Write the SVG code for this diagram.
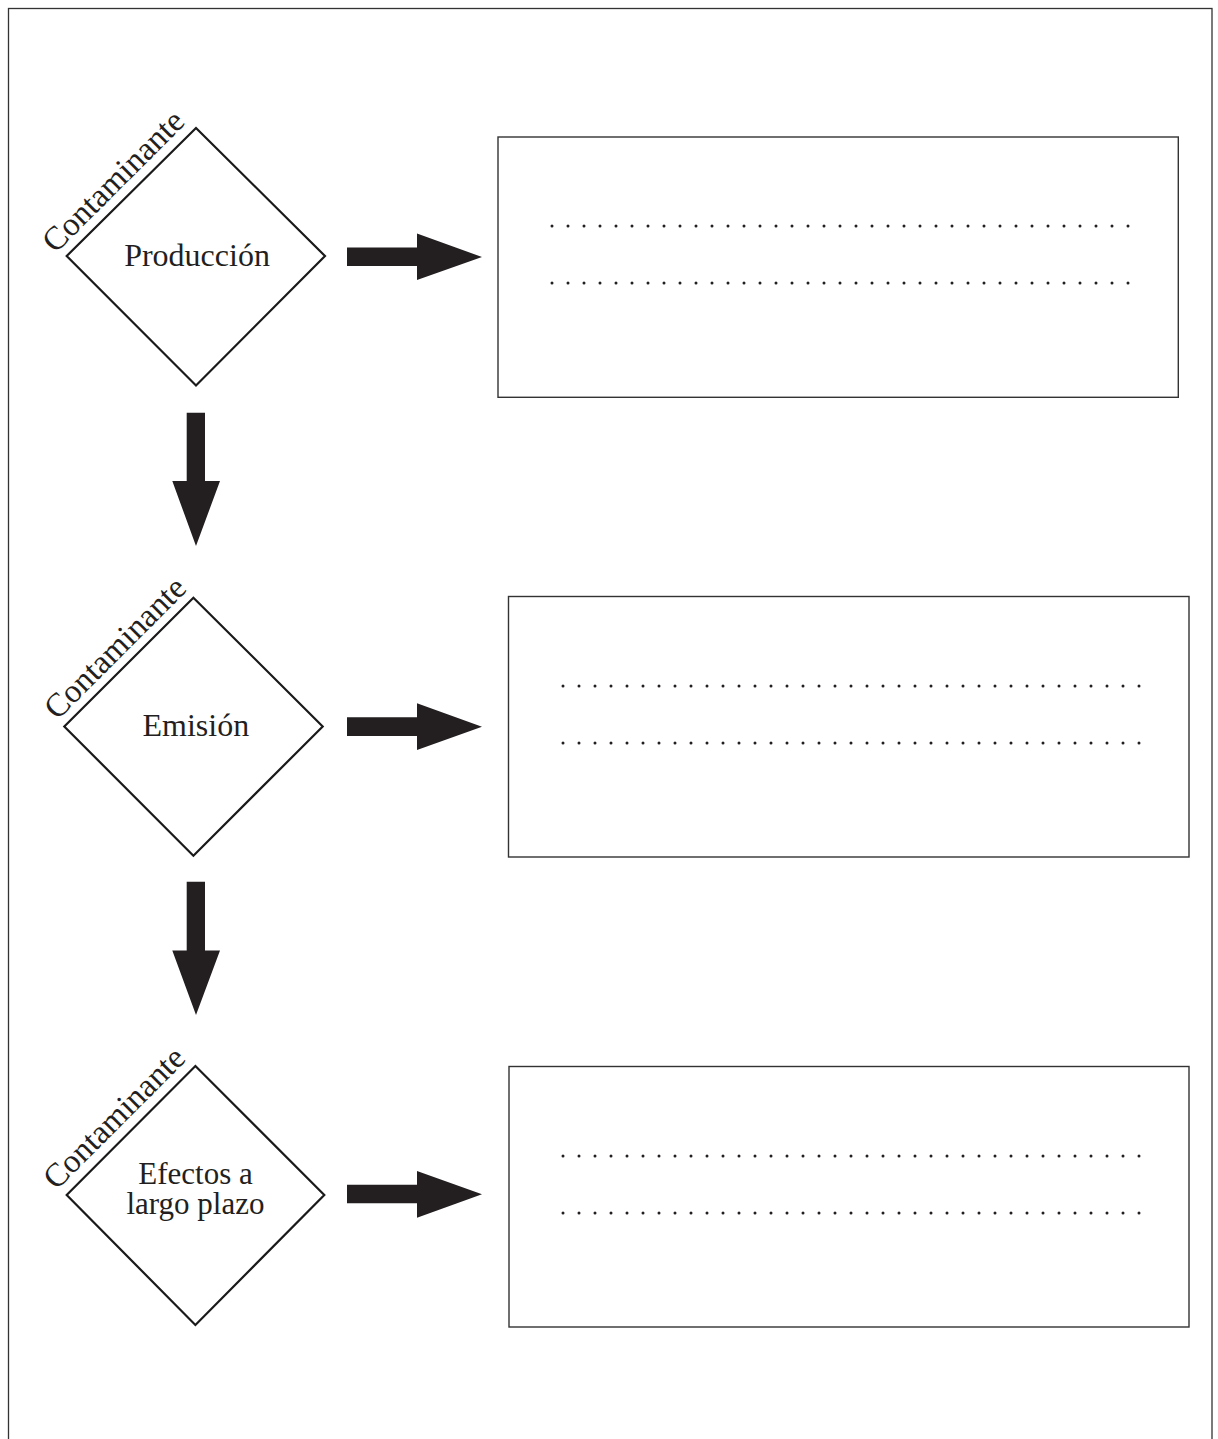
<svg xmlns="http://www.w3.org/2000/svg" width="1218" height="1439" viewBox="0 0 1218 1439">
<style>
.frame{fill:none;stroke:#333;stroke-width:1.3}
.diamond{fill:#fff;stroke:#1a1a1a;stroke-width:2.2;stroke-linejoin:miter}
.box{fill:#fff;stroke:#333;stroke-width:1.4}
.dots{stroke:#231f20;stroke-width:3;stroke-linecap:round;stroke-dasharray:0 16;fill:none}
.lbl{font-family:"Liberation Serif","Times New Roman",serif;font-size:32px;fill:#231f20;text-anchor:middle}
.lbl2{font-family:"Liberation Serif","Times New Roman",serif;font-size:31px;fill:#231f20;text-anchor:middle}
.side{font-family:"Liberation Serif","Times New Roman",serif;font-size:33px;fill:#231f20;text-anchor:middle}
.arr{fill:#231f20}
</style>
<rect width="1218" height="1439" fill="#fff"/>
<rect class="frame" x="8.5" y="8.5" width="1203.5" height="1460"/>

<g id="node-produccion">
<polygon class="diamond" points="196,128 325,256 196,385.5 66.7,256"/>
<text class="lbl" x="197" y="265.7">Producción</text>
<text class="side" transform="translate(120.8,188.6) rotate(-45)" x="0" y="0">Contaminante</text>
</g>
<g id="node-emision">
<polygon class="diamond" points="193.4,597.7 322.7,726.5 193.4,855.7 64.3,726.5"/>
<text class="lbl" x="195.8" y="735.7">Emisión</text>
<text class="side" transform="translate(122.75,655.25) rotate(-45)" x="0" y="0">Contaminante</text>
</g>
<g id="node-efectos">
<polygon class="diamond" points="195.4,1066 324.3,1195 195.4,1325 66.7,1195"/>
<text class="lbl2" x="195.5" y="1184">Efectos a</text>
<text class="lbl2" x="195.5" y="1214">largo plazo</text>
<text class="side" transform="translate(121.7,1125.3) rotate(-45)" x="0" y="0">Contaminante</text>
</g>

<g id="box-1">
<rect class="box" x="498" y="137" width="680.3" height="260.3"/>
<line class="dots" x1="552" y1="226" x2="1128.01" y2="226"/>
<line class="dots" x1="552" y1="283" x2="1128.01" y2="283"/>
</g>
<g id="box-2">
<rect class="box" x="508.5" y="596.5" width="680.5" height="260.5"/>
<line class="dots" x1="563" y1="686" x2="1139.01" y2="686"/>
<line class="dots" x1="563" y1="743" x2="1139.01" y2="743"/>
</g>
<g id="box-3">
<rect class="box" x="509" y="1066.5" width="680" height="260.5"/>
<line class="dots" x1="563" y1="1156" x2="1139.01" y2="1156"/>
<line class="dots" x1="563" y1="1213" x2="1139.01" y2="1213"/>
</g>

<g id="connectors">
<polygon class="arr" points="347,247.5 417,247.5 417,233.5 482,257 417,280 417,266 347,266"/>
<polygon class="arr" points="347,717.3 417,717.3 417,703.3 482,726.7 417,750 417,736 347,736"/>
<polygon class="arr" points="347,1184.8 417,1184.8 417,1171 482,1194.2 417,1217.7 417,1203.3 347,1203.3"/>
<polygon class="arr" points="186.7,412.7 205,412.7 205,481 220,481 196,546 172.3,481 186.7,481"/>
<polygon class="arr" points="186.7,881.7 205,881.7 205,950.5 220,950.5 196,1015 172.3,950.5 186.7,950.5"/>
</g>
</svg>
